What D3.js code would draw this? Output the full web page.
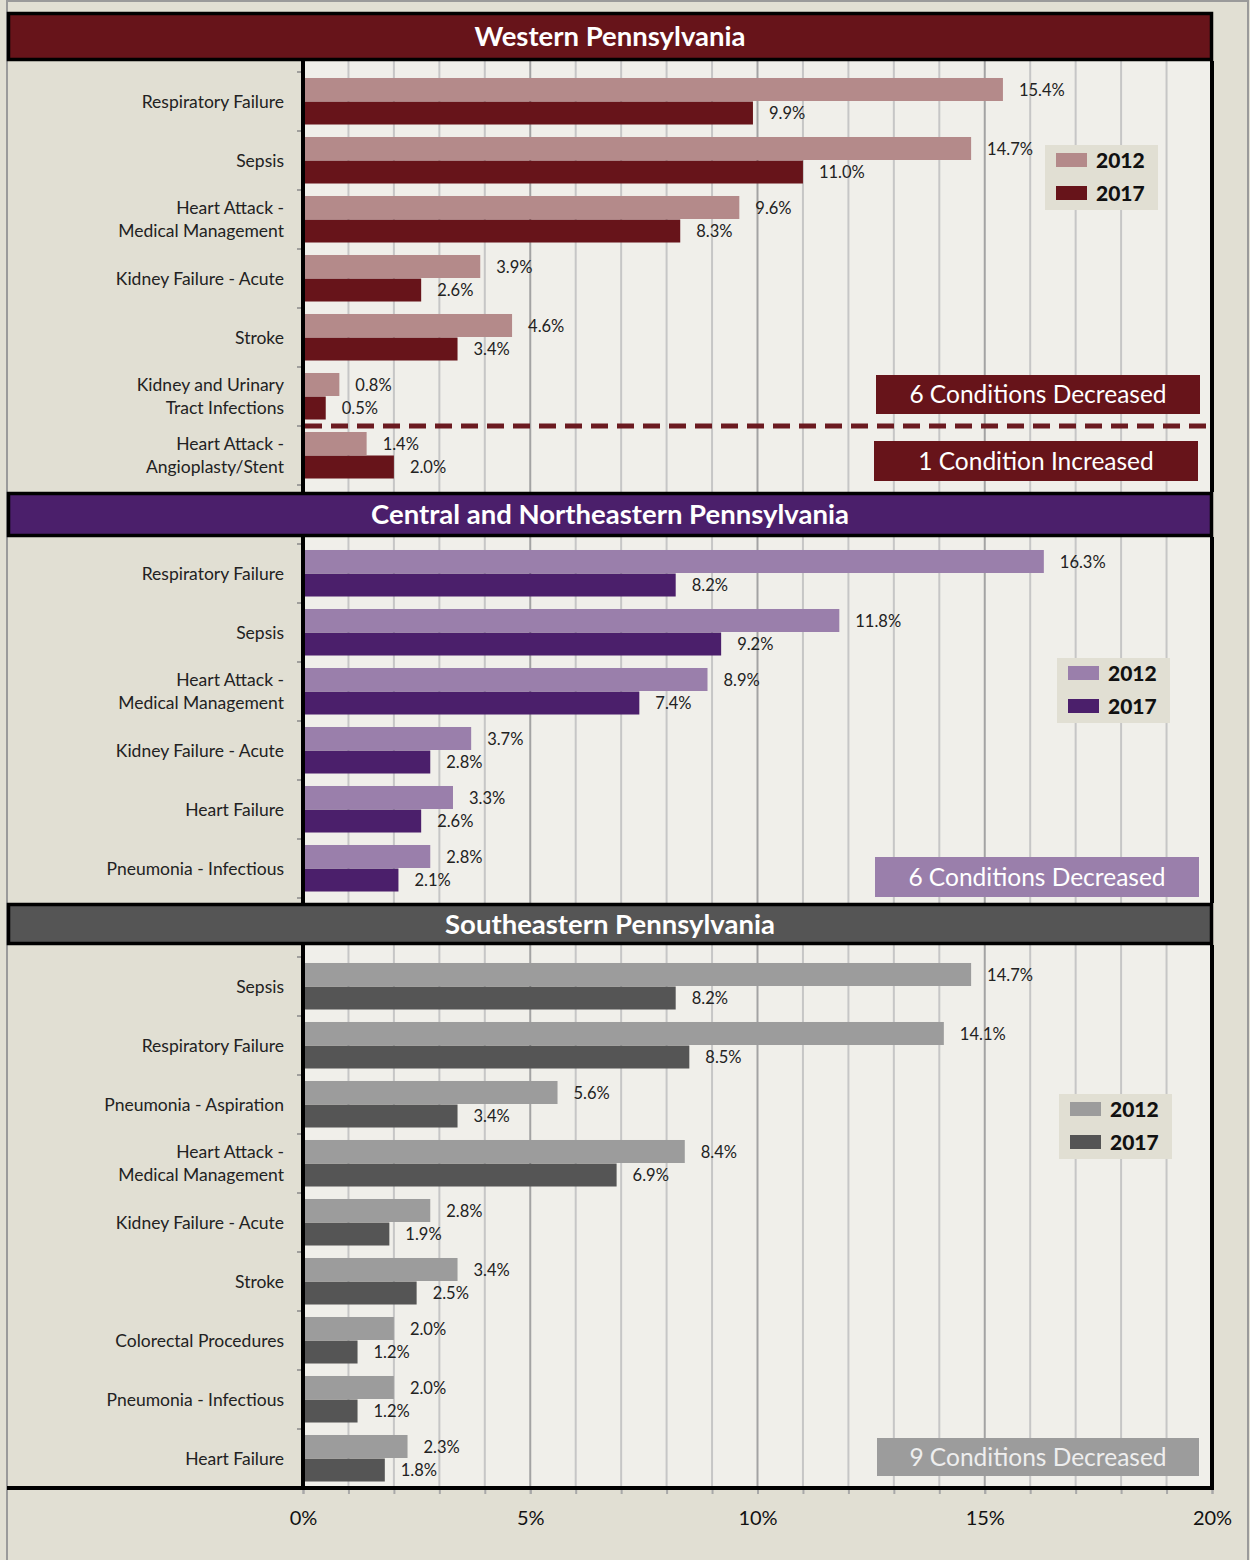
<!DOCTYPE html>
<html>
<head>
<meta charset="utf-8">
<script src="https://cdn.jsdelivr.net/npm/d3@7"></script>
<style>
  body { margin: 0; background: #e1dfd3; }
  svg { display: block; font-family: "Lato", "Open Sans", sans-serif; }
</style>
</head>
<body>
<div class="canvas"></div>
<script>
// data
const years = ["2012", "2017"]

const westCats = ["Respiratory Failure", "Sepsis", "Heart Attack -|Medical Management", "Kidney Failure - Acute", "Stroke", "Kidney and Urinary|Tract Infections", "Heart Attack -|Angioplasty/Stent"]
const west2012 = [15.4, 14.7, 9.6, 3.9, 4.6, 0.8, 1.4]
const west2017 = [9.9, 11.0, 8.3, 2.6, 3.4, 0.5, 2.0]

const centralCats = ["Respiratory Failure", "Sepsis", "Heart Attack -|Medical Management", "Kidney Failure - Acute", "Heart Failure", "Pneumonia - Infectious"]
const central2012 = [16.3, 11.8, 8.9, 3.7, 3.3, 2.8]
const central2017 = [8.2, 9.2, 7.4, 2.8, 2.6, 2.1]

const southCats = ["Sepsis", "Respiratory Failure", "Pneumonia - Aspiration", "Heart Attack -|Medical Management", "Kidney Failure - Acute", "Stroke", "Colorectal Procedures", "Pneumonia - Infectious", "Heart Failure"]
const south2012 = [14.7, 14.1, 5.6, 8.4, 2.8, 3.4, 2.0, 2.0, 2.3]
const south2017 = [8.2, 8.5, 3.4, 6.9, 1.9, 2.5, 1.2, 1.2, 1.8]

const xTicks = [0, 5, 10, 15, 20]

const width = 1250
const height = 1560

const svg = d3.select(".canvas")
    .append("svg")
    .attr("width", width)
    .attr("height", height)

// page background + thin outer frame
svg.append("rect")
    .attr("x", 0).attr("y", 0).attr("width", width).attr("height", height)
    .attr("fill", "#e1dfd3")
svg.append("path")
    .attr("d", `M7,${height} V1 H1248 V${height}`)
    .attr("fill", "none")
    .attr("stroke", "#9a9a9a")
    .attr("stroke-width", 2)

const x = d3.scaleLinear()
    .domain([0, 20])
    .range([303, 1212])

const step = 59

const panels = [
    {
        title: "Western Pennsylvania", cats: westCats, v12: west2012, v17: west2017,
        head: [13.5, 46], plot: [61, 492], y0: 72,
        dark: "#67141a", light: "#b48a8a", legend: [1045, 145],
        boxes: [
            { text: "6 Conditions Decreased", x: 876, y: 375, w: 324, h: 39, fill: "#67141a", color: "#fff" },
            { text: "1 Condition Increased", x: 874, y: 441, w: 324, h: 40, fill: "#67141a", color: "#fff" }
        ],
        dashAfter: 6
    },
    {
        title: "Central and Northeastern Pennsylvania", cats: centralCats, v12: central2012, v17: central2017,
        head: [493.5, 42], plot: [537, 903], y0: 544,
        dark: "#4b1f6b", light: "#9a7fab", legend: [1057, 658],
        boxes: [
            { text: "6 Conditions Decreased", x: 875, y: 857, w: 324, h: 40, fill: "#9a7fab", color: "#fff" }
        ]
    },
    {
        title: "Southeastern Pennsylvania", cats: southCats, v12: south2012, v17: south2017,
        head: [904.5, 39], plot: [945, 1488], y0: 957,
        dark: "#555555", light: "#9c9c9c", legend: [1059, 1094],
        boxes: [
            { text: "9 Conditions Decreased", x: 877, y: 1438, w: 322, h: 38, fill: "#9c9c9c", color: "#eeeeee" }
        ]
    }
]

panels.forEach(p => {
    const g = svg.append("g")

    // plot background
    g.append("rect")
        .attr("x", 303).attr("y", p.plot[0])
        .attr("width", 909).attr("height", p.plot[1] - p.plot[0])
        .attr("fill", "#f0efea")

    // gridlines every 1%, darker every 5%
    g.selectAll(".grid")
        .data(d3.range(1, 20))
        .enter()
        .append("line")
        .attr("x1", d => x(d)).attr("x2", d => x(d))
        .attr("y1", p.plot[0]).attr("y2", p.plot[1])
        .attr("stroke", d => d % 5 === 0 ? "#a3a3a3" : "#c6c6c6")
        .attr("stroke-width", 2)

    const y = d3.scaleBand()
        .domain(p.cats)
        .range([p.y0, p.y0 + step * p.cats.length])

    const ySub = d3.scaleBand()
        .domain(years)
        .range([0, y.bandwidth()])
        .paddingOuter(0.255)

    const rows = p.cats.map((c, i) => ({ cat: c, vals: [p.v12[i], p.v17[i]] }))

    const row = g.selectAll(".row")
        .data(rows)
        .enter()
        .append("g")
        .attr("transform", d => `translate(0, ${y(d.cat)})`)

    row.selectAll("rect")
        .data(d => d.vals.map((v, i) => ({ year: years[i], v })))
        .enter()
        .append("rect")
        .attr("x", x(0))
        .attr("y", d => ySub(d.year))
        .attr("width", d => x(d.v) - x(0))
        .attr("height", ySub.bandwidth() - 0.5)
        .attr("fill", d => d.year === "2012" ? p.light : p.dark)

    row.selectAll(".val")
        .data(d => d.vals.map((v, i) => ({ year: years[i], v })))
        .enter()
        .append("text")
        .attr("x", d => x(d.v) + 16)
        .attr("y", d => ySub(d.year) + ySub.bandwidth() / 2)
        .attr("dy", "0.35em")
        .attr("font-size", 16.5)
        .attr("fill", "#222")
        .text(d => d.v.toFixed(1) + "%")

    // category labels (multi-line split on |)
    row.append("text")
        .attr("text-anchor", "end")
        .attr("font-size", 17.5)
        .attr("fill", "#222")
        .each(function(d) {
            const lines = d.cat.split("|")
            const t = d3.select(this)
            lines.forEach((l, i) => {
                t.append("tspan")
                    .attr("x", 284)
                    .attr("y", y.bandwidth() / 2 + (i - (lines.length - 1) / 2) * 23)
                    .attr("dy", "0.35em")
                    .text(l)
            })
        })

    // band boundary ticks on the category axis
    const bounds = p.cats.map(c => y(c)).concat([p.y0 + step * p.cats.length])
    g.selectAll(".btick")
        .data(bounds)
        .enter()
        .append("line")
        .attr("x1", 297).attr("x2", 303)
        .attr("y1", d => d).attr("y2", d => d)
        .attr("stroke", "#8a8a8a")
        .attr("stroke-width", 1.5)

    // dashed separator line
    if (p.dashAfter !== undefined) {
        const yd = y(p.cats[p.dashAfter])
        g.append("line")
            .attr("x1", 305).attr("x2", 1210)
            .attr("y1", yd).attr("y2", yd)
            .attr("stroke", "#6b1a20")
            .attr("stroke-width", 5)
            .attr("stroke-dasharray", "17 9")
    }

    // annotation boxes
    p.boxes.forEach(b => {
        g.append("rect")
            .attr("x", b.x).attr("y", b.y).attr("width", b.w).attr("height", b.h)
            .attr("fill", b.fill)
        g.append("text")
            .attr("x", b.x + b.w / 2).attr("y", b.y + b.h / 2)
            .attr("dy", "0.36em")
            .attr("text-anchor", "middle")
            .attr("font-size", 24.5)
            .attr("fill", b.color)
            .text(b.text)
    })

    // legend
    const lg = g.append("g").attr("transform", `translate(${p.legend[0]}, ${p.legend[1]})`)
    lg.append("rect").attr("width", 113).attr("height", 65).attr("fill", "#e1dfd3")
    years.forEach((yr, i) => {
        lg.append("rect")
            .attr("x", 11).attr("y", 8 + i * 33)
            .attr("width", 31).attr("height", 14)
            .attr("fill", i === 0 ? p.light : p.dark)
        lg.append("text")
            .attr("x", 51).attr("y", 15 + i * 33)
            .attr("dy", "0.36em")
            .attr("font-size", 21)
            .attr("font-weight", 900)
            .attr("fill", "#111")
            .text(yr)
    })

    // left axis + right border
    g.append("line")
        .attr("x1", 303).attr("x2", 303)
        .attr("y1", p.plot[0]).attr("y2", p.plot[1])
        .attr("stroke", "#000").attr("stroke-width", 4)
    g.append("line")
        .attr("x1", 1212).attr("x2", 1212)
        .attr("y1", p.plot[0]).attr("y2", p.plot[1])
        .attr("stroke", "#000").attr("stroke-width", 4)

    // header
    g.append("rect")
        .attr("x", 8.5).attr("y", p.head[0])
        .attr("width", 1203).attr("height", p.head[1])
        .attr("fill", p.dark)
        .attr("stroke", "#000").attr("stroke-width", 3.5)
    g.append("text")
        .attr("x", 610).attr("y", p.head[0] + p.head[1] / 2)
        .attr("dy", "0.36em")
        .attr("text-anchor", "middle")
        .attr("font-size", 27.5)
        .attr("font-weight", "bold")
        .attr("fill", "#fff")
        .text(p.title)
})

// bottom axis
const minorAxis = d3.axisBottom(x)
    .tickValues(d3.range(0, 21))
    .tickSize(6)
    .tickFormat("")
const xAxis = d3.axisBottom(x)
    .tickValues(xTicks)
    .tickSize(6)
    .tickPadding(17)
    .tickFormat(d => d + "%")

const minorG = svg.append("g").attr("transform", "translate(0, 1488)").call(minorAxis)
minorG.select(".domain").remove()
minorG.selectAll("line").attr("stroke", "#a8a8a8").attr("stroke-width", 2)

const axisG = svg.append("g").attr("transform", "translate(0, 1488)").call(xAxis)
axisG.select(".domain").remove()
axisG.selectAll("line").attr("stroke", "#a8a8a8").attr("stroke-width", 2)
axisG.selectAll("text")
    .attr("font-size", 20)
    .attr("font-family", "Lato, 'Open Sans', sans-serif")
    .attr("fill", "#111")

svg.append("line")
    .attr("x1", 7).attr("x2", 1214)
    .attr("y1", 1488).attr("y2", 1488)
    .attr("stroke", "#000").attr("stroke-width", 4)
</script>
</body>
</html>
